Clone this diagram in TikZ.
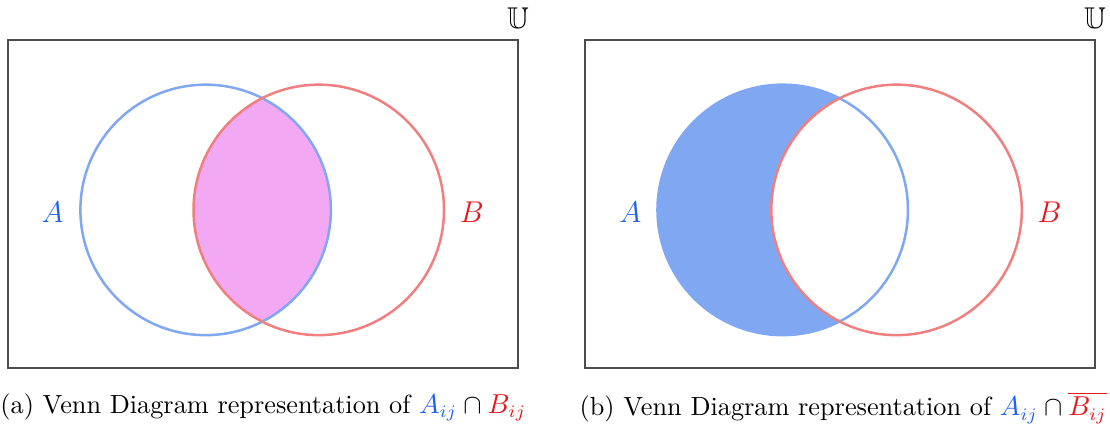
\documentclass[tikz,border=0pt]{standalone}
\usepackage{amsmath,amssymb}
\usepackage{xcolor}
\usetikzlibrary{positioning}
\definecolor{vennBlue}{HTML}{80A8F2}
\definecolor{vennRed}{HTML}{F08080}
\definecolor{vennPink}{HTML}{F3A8F3}
\definecolor{labBlue}{HTML}{1E60F0}
\definecolor{labRed}{HTML}{E8141A}

\begin{document}
\begin{tikzpicture}[
  setA/.style={draw=vennBlue,line width=1pt},
  setB/.style={draw=vennRed,line width=1pt},
  universe/.style={draw=black!70,line width=0.6pt},
  setlabel/.style={font=\large},
  caption/.style={font=\fontsize{10.5}{12.6}\selectfont}]
  \useasboundingbox (-0.11,-0.83) rectangle (15.49,5.17);
  % (a) A cap B
  \coordinate (cA1) at (2.78,2.22);
  \coordinate (cB1) at (4.37,2.22);
  \draw[universe] (0,0) rectangle (7.17,4.61);
  \begin{scope}
    \clip (cA1) circle (1.76);
    \fill[vennPink] (cB1) circle (1.76);
  \end{scope}
  \draw[setA] (cA1) circle (1.76);
  \draw[setB] (cB1) circle (1.76);
  \node[setlabel,text=labBlue] (labA1) at (0.63,2.19) {$A$};
  \node[setlabel,text=labRed] (labB1) at (6.52,2.19) {$B$};
  \node[setlabel] (univ1) at (7.17,4.92) {$\mathbb{U}$};
  \node[caption] (cap1) at (3.59,-0.56) {(a) Venn Diagram representation of $\textcolor{labBlue}{A_{ij}}\cap\textcolor{labRed}{B_{ij}}$};
  % (b) A cap not B
  \begin{scope}[xshift=8.11cm]
    \coordinate (cA2) at (2.78,2.22);
    \coordinate (cB2) at (4.38,2.22);
    \draw[universe] (0,0) rectangle (7.17,4.61);
    \fill[vennBlue] (cA2) circle (1.76);
    \fill[white] (cB2) circle (1.76);
    \draw[setA] (cA2) circle (1.76);
    \draw[setB] (cB2) circle (1.76);
    \node[setlabel,text=labBlue] (labA2) at (0.64,2.19) {$A$};
    \node[setlabel,text=labRed] (labB2) at (6.53,2.19) {$B$};
    \node[setlabel] (univ2) at (7.17,4.92) {$\mathbb{U}$};
    \node[caption] (cap2) at (3.63,-0.56) {(b) Venn Diagram representation of $\textcolor{labBlue}{A_{ij}}\cap\textcolor{labRed}{\overline{B_{ij}}}$};
  \end{scope}
\end{tikzpicture}
\end{document}
